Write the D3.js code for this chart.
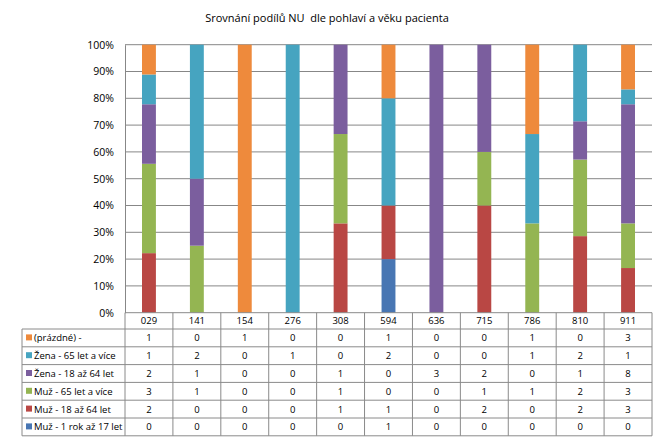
<!DOCTYPE html>
<html>
<head>
<meta charset="utf-8">
<script src="https://cdn.jsdelivr.net/npm/d3@7"></script>
<style>
  body { margin: 0; background: #fff; }
  text { font-family: "Open Sans", "Liberation Sans", sans-serif; fill: #000; }
</style>
</head>
<body>
<svg></svg>
<script>
// categories and series, top row of table first
let categories = ["029", "141", "154", "276", "308", "594", "636", "715", "786", "810", "911"];
let seriesNames = ["(prázdné) -", "Žena - 65 let a více", "Žena - 18 až 64 let", "Muž - 65 let a více", "Muž - 18 až 64 let", "Muž - 1 rok až 17 let"];
let prazdne   = [1, 0, 1, 0, 0, 1, 0, 0, 1, 0, 3];
let zena65    = [1, 2, 0, 1, 0, 2, 0, 0, 1, 2, 1];
let zena18    = [2, 1, 0, 0, 1, 0, 3, 2, 0, 1, 8];
let muz65     = [3, 1, 0, 0, 1, 0, 0, 1, 1, 2, 3];
let muz18     = [2, 0, 0, 0, 1, 1, 0, 2, 0, 2, 3];
let muz1      = [0, 0, 0, 0, 0, 1, 0, 0, 0, 0, 0];
let seriesValues = [prazdne, zena65, zena18, muz65, muz18, muz1];
let colors = ["#EE8A3C", "#46A4C0", "#7B5E9E", "#94B552", "#B94744", "#4876B3"];
let yTicks = [0, 0.1, 0.2, 0.3, 0.4, 0.5, 0.6, 0.7, 0.8, 0.9, 1];

let width = 667;
let height = 442;
let plotLeft = 125, plotRight = 652, plotTop = 44.7, plotBottom = 312.7;
let rowH = 17.8, headH = 16.3, labelLeft = 22;

let svg = d3.select("svg").attr("width", width).attr("height", height);

// build rows for d3.stack
let table = categories.map((c, i) => {
  let row = { cat: c };
  seriesNames.forEach((s, j) => row[s] = seriesValues[j][i]);
  return row;
});

let stackKeys = seriesNames.slice().reverse();
let stacked = d3.stack().keys(stackKeys).offset(d3.stackOffsetExpand)(table);

let xScale = d3.scaleBand().domain(categories).range([plotLeft, plotRight]).padding(0);
let yScale = d3.scaleLinear().domain([0, 1]).range([plotBottom, plotTop]);
let barW = xScale.bandwidth() * 0.29;

// title (keeps the double space)
svg.append("text")
   .attr("x", 327).attr("y", 22)
   .attr("text-anchor", "middle")
   .style("font-size", "11px")
   .style("white-space", "pre")
   .text("Srovnání podílů NU  dle pohlaví a věku pacienta");

// gridlines
svg.append("g")
   .selectAll("line")
   .data(yTicks.slice(1))
   .enter()
   .append("line")
   .attr("x1", plotLeft).attr("x2", plotRight)
   .attr("y1", d => yScale(d)).attr("y2", d => yScale(d))
   .attr("stroke", "#878787").attr("stroke-width", 1);

// y axis
let yAxis = d3.axisLeft(yScale).tickValues(yTicks).tickFormat(d3.format(".0%")).tickSize(0).tickPadding(11);
let yg = svg.append("g").attr("transform", "translate(" + plotLeft + ",0)").call(yAxis);
yg.select(".domain").attr("stroke", "#878787");
yg.selectAll("text").style("font-size", "10.5px").attr("fill", "#000");

// bars
svg.append("g")
   .selectAll("g")
   .data(stacked)
   .enter()
   .append("g")
   .attr("fill", d => colors[seriesNames.indexOf(d.key)])
   .selectAll("rect")
   .data(d => d)
   .enter()
   .append("rect")
   .attr("x", d => xScale(d.data.cat) + (xScale.bandwidth() - barW) / 2)
   .attr("width", barW)
   .attr("y", d => yScale(d[1]))
   .attr("height", d => yScale(d[0]) - yScale(d[1]));

// data table
let tg = svg.append("g").attr("stroke", "#8a8a8a").attr("stroke-width", 1).attr("fill", "none");
let tableBottom = plotBottom + headH + rowH * seriesNames.length;
// header row (categories)
tg.append("line").attr("x1", plotLeft).attr("x2", plotRight).attr("y1", plotBottom).attr("y2", plotBottom);
// row lines
d3.range(seriesNames.length + 1).forEach(i => {
  let y = plotBottom + headH + rowH * i;
  tg.append("line").attr("x1", labelLeft).attr("x2", plotRight).attr("y1", y).attr("y2", y);
});
// vertical lines
categories.forEach(c => {
  tg.append("line").attr("x1", xScale(c)).attr("x2", xScale(c)).attr("y1", plotBottom).attr("y2", tableBottom);
});
tg.append("line").attr("x1", plotRight).attr("x2", plotRight).attr("y1", plotBottom).attr("y2", tableBottom);
tg.append("line").attr("x1", labelLeft).attr("x2", labelLeft).attr("y1", plotBottom + headH).attr("y2", tableBottom);

// category labels
svg.append("g")
   .selectAll("text")
   .data(categories)
   .enter()
   .append("text")
   .attr("x", d => xScale(d) + xScale.bandwidth() / 2)
   .attr("y", plotBottom + headH / 2 + 3.5)
   .attr("text-anchor", "middle")
   .style("font-size", "9.5px")
   .text(d => d);

// series rows
seriesNames.forEach((s, j) => {
  let yMid = plotBottom + headH + rowH * j + rowH / 2;
  svg.append("rect")
     .attr("x", 26).attr("y", yMid - 3.5).attr("width", 6).attr("height", 6)
     .attr("fill", colors[j]);
  svg.append("text")
     .attr("x", 34).attr("y", yMid + 3.5)
     .style("font-size", "9.5px")
     .text(s);
  svg.append("g")
     .selectAll("text")
     .data(seriesValues[j])
     .enter()
     .append("text")
     .attr("x", (d, i) => xScale(categories[i]) + xScale.bandwidth() / 2)
     .attr("y", yMid + 3.5)
     .attr("text-anchor", "middle")
     .style("font-size", "9.5px")
     .text(d => d);
});
</script>
</body>
</html>
